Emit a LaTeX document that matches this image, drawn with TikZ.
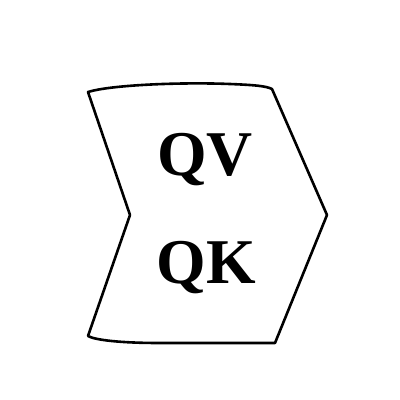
\documentclass[tikz,border=0pt]{standalone}
\usepackage{fontspec}
\setmainfont{Liberation Serif}
\usepackage{tikz}

\begin{document}
\begin{tikzpicture}[x=1bp,y=-1bp,
        line width=2.6bp,line join=round,
        every node/.style={inner sep=0pt,anchor=base,font=\fontsize{64}{72}\selectfont\bfseries}]
    \useasboundingbox (0,0) rectangle (400,400);

    \coordinate (tl) at (88,92);
    \coordinate (tr) at (272,89);
    \coordinate (tip) at (327,215);
    \coordinate (br) at (275,343);
    \coordinate (bl) at (88,336);
    \coordinate (notch) at (130,215);

    \draw (tl) .. controls (110,85) and (180,82) .. (230,84)
               .. controls (255,85) and (266,86) .. (tr)
          -- (tip) -- (br) -- (160,343)
               .. controls (120,343) and (95,340) .. (bl)
          -- (notch) -- cycle;

    \node (qv) at (205,175) {QV};
    \node (qk) at (206,283) {QK};
\end{tikzpicture}
\end{document}
